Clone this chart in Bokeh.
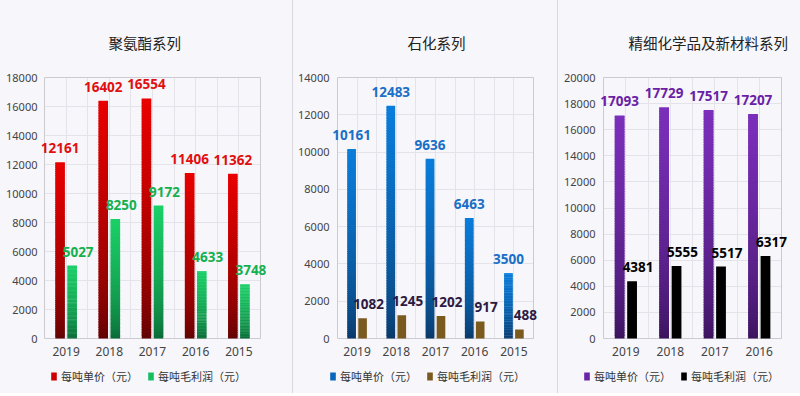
from bokeh.plotting import figure
from bokeh.models import (FixedTicker, Legend, LegendItem, Div,
                          Range1d, ColumnDataSource, LabelSet, Grid)
from bokeh.layouts import row, column
from bokeh.embed import file_html
from bokeh.resources import INLINE
from bokeh.core.properties import value

# ---------------- data ----------------
pu_years = ["2019", "2018", "2017", "2016", "2015"]
pu_price = [12161, 16402, 16554, 11406, 11362]
pu_profit = [5027, 8250, 9172, 4633, 3748]

pc_years = ["2019", "2018", "2017", "2016", "2015"]
pc_price = [10161, 12483, 9636, 6463, 3500]
pc_profit = [1082, 1245, 1202, 917, 488]

fc_years = ["2019", "2018", "2017", "2016"]
fc_price = [17093, 17729, 17517, 17207]
fc_profit = [4381, 5555, 5517, 6317]

titles = ["聚氨酯系列", "石化系列", "精细化学品及新材料系列"]
series_names = ["每吨单价（元）", "每吨毛利润（元）"]
y_max = [18000, 14000, 20000]

# ---------------- style ----------------
BG = "#f7f6fa"
GRID = "#e4e3e9"
OUTLINE = "#cccbd2"
SEP = "#d9d8de"
CJK = "Noto Sans CJK SC"
NUM = "Noto Sans"
H = 362      # chart part
HL = 31      # legend strip
HAS_CB = "cross_bounds" in Grid.properties()


def hex2rgb(h):
    h = h.lstrip("#")
    return tuple(int(h[i:i + 2], 16) for i in (0, 2, 4))


def mix(c0, c1, t):
    a, b = hex2rgb(c0), hex2rgb(c1)
    return "#%02x%02x%02x" % tuple(int(round(a[i] + (b[i] - a[i]) * t)) for i in range(3))


def bars(p, xs, vals, top_col, bot_col, width, gamma=0.6):
    n = 1 if top_col == bot_col else 90
    bx, bb, bt, bc = [], [], [], []
    for x, v in zip(xs, vals):
        for i in range(n):
            bx.append(x)
            bb.append(v * i / n)
            bt.append(min(v, v * (i + 1.6) / n))
            bc.append(mix(bot_col, top_col, ((i + 0.5) / n) ** gamma))
    p.vbar(x=bx, bottom=bb, top=bt, width=width, fill_color=bc, line_color=None)


def grid(p, dim, ticks, color, cb):
    g = Grid(dimension=dim, ticker=FixedTicker(ticks=ticks), grid_line_color=color)
    if HAS_CB:
        g.cross_bounds = cb
    p.add_layout(g)


def panel(years, price, profit, ymax, title, w, left, right, ext_l, ext_r,
          y_standoff, t_off, c_price, c_profit, lab_price, lab_profit):
    n = len(years)
    e = ymax / 261.0
    p = figure(width=w, height=H, output_backend="svg", toolbar_location=None,
               x_range=Range1d(-ext_l, n + ext_r), y_range=Range1d(-e, ymax + e),
               min_border_left=left, min_border_right=right,
               min_border_top=76, min_border_bottom=H - 339,
               background_fill_color=BG, border_fill_color=BG,
               outline_line_color=None)
    p.xgrid.visible = False
    p.ygrid.visible = False
    yt = list(range(0, ymax + 1, 2000))
    grid(p, 0, [i * 0.5 for i in range(1, 2 * n)], GRID, (0, ymax))
    grid(p, 1, yt[1:-1], GRID, (0, n))
    grid(p, 0, [0, n], OUTLINE, (0, ymax))
    grid(p, 1, [0, ymax], OUTLINE, (0, n))

    centers = [i + 0.5 for i in range(n)]
    xp = [c - 0.14 for c in centers]
    xq = [c + 0.14 for c in centers]
    bars(p, xp, price, c_price[0], c_price[1], 0.22)
    bars(p, xq, profit, c_profit[0], c_profit[1], 0.22)

    src = ColumnDataSource(dict(xp=xp, xq=xq, price=price, profit=profit,
                                tp=[str(v) for v in price],
                                tq=[str(v) for v in profit]))
    p.add_layout(LabelSet(x="xp", y="price", text="tp", source=src,
                          text_align="center", text_baseline="bottom", y_offset=9,
                          text_font=value(NUM), text_font_style="bold",
                          text_font_size="13.5px", text_color=lab_price))
    p.add_layout(LabelSet(x="xq", y="profit", text="tq", source=src,
                          text_align="center", text_baseline="bottom", y_offset=9,
                          x_offset=6, text_font=value(NUM), text_font_style="bold",
                          text_font_size="13.5px", text_color=lab_profit))

    # axes
    p.xaxis.ticker = FixedTicker(ticks=centers)
    p.xaxis.major_label_overrides = {c: y for c, y in zip(centers, years)}
    p.yaxis.ticker = FixedTicker(ticks=yt)
    for ax in (p.xaxis[0], p.yaxis[0]):
        ax.axis_line_color = None
        ax.major_tick_line_color = None
        ax.minor_tick_line_color = None
        ax.major_tick_in = 0
        ax.major_tick_out = 0
        ax.major_label_text_font = NUM
        ax.major_label_text_color = "#444444"
    p.yaxis.major_label_text_font_size = "11px"
    p.xaxis.major_label_text_font_size = "12px"
    p.yaxis.major_label_standoff = y_standoff
    p.xaxis.major_label_standoff = 7

    # title
    p.title.text = title
    p.title.align = "left"
    p.title.offset = t_off
    p.title.text_font = CJK
    p.title.text_font_size = "14.5px"
    p.title.text_font_style = "normal"
    p.title.text_color = "#222222"
    p.title.standoff = 47
    return p


def legend_strip(w, leg_x, c_price, c_profit):
    lf = figure(width=w, height=HL, output_backend="svg", toolbar_location=None,
                x_range=Range1d(0, 1), y_range=Range1d(0, 1),
                x_axis_location=None, y_axis_location=None,
                min_border=0, background_fill_color=BG, border_fill_color=BG,
                outline_line_color=None)
    lf.xgrid.visible = False
    lf.ygrid.visible = False
    r1 = lf.vbar(x=[-5], bottom=[-6], top=[-5], width=0.1,
                 fill_color=c_price, line_color=None)
    r2 = lf.vbar(x=[-5], bottom=[-6], top=[-5], width=0.1,
                 fill_color=c_profit, line_color=None)
    leg = Legend(items=[LegendItem(label=series_names[0], renderers=[r1]),
                        LegendItem(label=series_names[1], renderers=[r2])],
                 orientation="horizontal", location=(leg_x, 9),
                 border_line_color=None, background_fill_alpha=0,
                 padding=0, margin=0, spacing=9, glyph_width=7, glyph_height=10,
                 label_standoff=4, label_text_font=CJK,
                 label_text_font_size="11px", label_text_color="#333333")
    lf.add_layout(leg)
    return lf


def sep(h):
    return Div(text="", width=1, height=h, margin=0,
               styles={"background-color": SEP})


C1 = (("#e80000", "#5a0404"), ("#1bd068", "#0a6434"))
C2 = (("#0a7ddb", "#0a3563"), ("#7b5a20", "#7b5a20"))
C3 = (("#7b2fbb", "#381258"), ("#000000", "#000000"))

p1 = panel(pu_years, pu_price, pu_profit, y_max[0], titles[0], 292, 41, 26, 0.07, 0.14,
           4, 67, C1[0], C1[1], "#e01010", "#14b04e")
p2 = panel(pc_years, pc_price, pc_profit, y_max[1], titles[1], 264, 39, 19, 0.127, 0.127,
           3, 75, C2[0], C2[1], "#1a6fc6", "#2c1a42")
p3 = panel(fc_years, fc_price, fc_profit, y_max[2], titles[2], 242, 42, 13, 0.07, 0.135,
           5, 28, C3[0], C3[1], "#6a1fa6", "#000000")

l1 = legend_strip(292, 50, "#cc0000", "#16c060")
l2 = legend_strip(264, 36, "#0a66bb", "#7b5a20")
l3 = legend_strip(242, 25, "#6a25a5", "#000000")

layout = column(row(p1, sep(H), p2, sep(H), p3, spacing=0),
                row(l1, sep(HL), l2, sep(HL), l3, spacing=0),
                spacing=0, styles={"background-color": BG})

open("out.html", "w").write(file_html(layout, INLINE))
